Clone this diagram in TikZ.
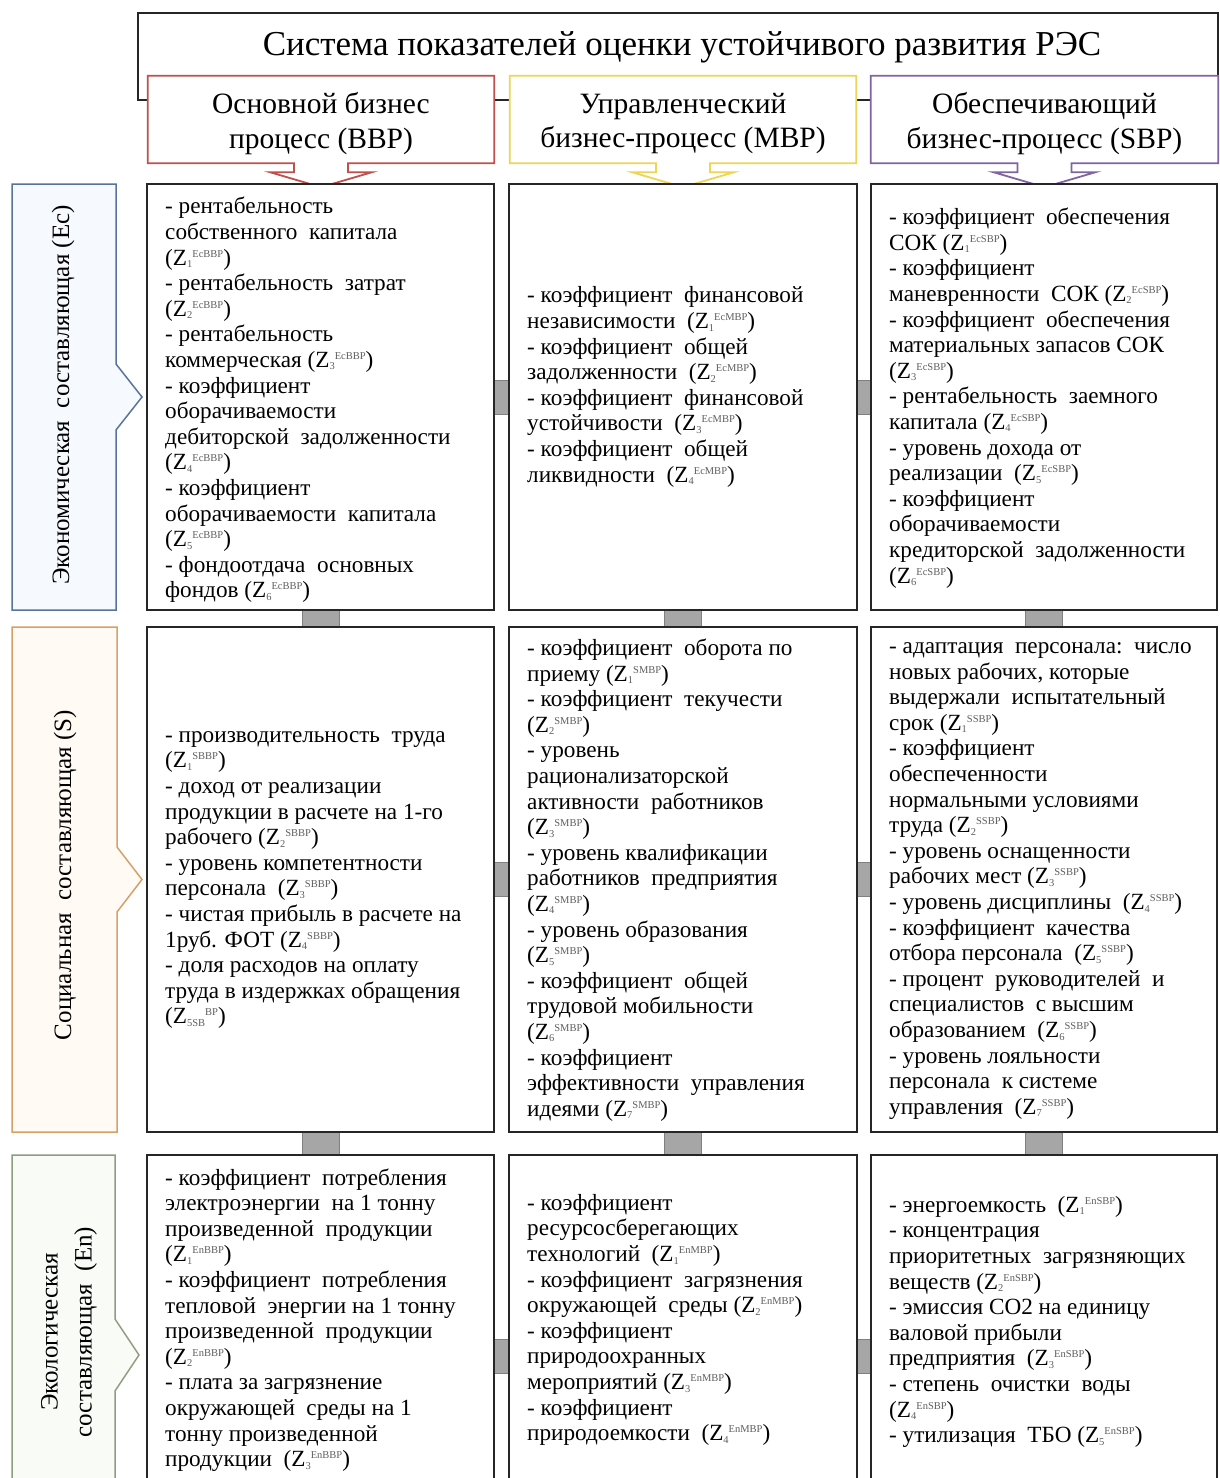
\documentclass[tikz,border=0pt]{standalone}
\usepackage{fontspec}
\setmainfont{Liberation Serif}

% outline colours
\definecolor{bbpc}{RGB}{192,80,77}
\definecolor{mbpc}{RGB}{236,214,82}
\definecolor{sbpc}{RGB}{128,100,162}
\definecolor{ecc}{RGB}{88,116,154}
\definecolor{ecf}{RGB}{246,249,253}
\definecolor{soc}{RGB}{214,160,104}
\definecolor{sof}{RGB}{255,250,244}
\definecolor{enc}{RGB}{142,156,128}
\definecolor{enf}{RGB}{249,251,246}
\definecolor{idx}{RGB}{95,95,95}

% indicator symbol Z with lower and upper index
\newcommand{\zi}[2]{(Z\raisebox{-2.5pt}{\fontsize{10.5}{10.5}\selectfont\color{idx}#1}\raisebox{8pt}{\fontsize{10.5}{10.5}\selectfont\color{idx}#2})}
% wide gap between words
\newcommand{\wsp}{\hspace{0.5em}}

\tikzset{
  cell/.style={draw=black!85, line width=1.6pt, fill=white, rectangle, inner sep=0pt},
  slot/.style={rectangle, inner sep=0pt},
  hdrline/.style={line width=1.8pt, fill=white, line join=miter},
  hdrtext/.style={align=center, inner sep=0pt, font=\fontsize{29.5}{34.5}\selectfont},
  body/.style={align=left, inner sep=0pt, anchor=west, font=\fontsize{23.2}{25.6}\selectfont},
  labline/.style={line width=1.5pt},
  labtext/.style={rotate=90, align=center, inner sep=0pt, font=\fontsize{25}{34}\selectfont},
  link/.style={fill=black!35, draw=black!50, line width=0.8pt},
}

\begin{document}
\begin{tikzpicture}[x=1pt,y=-1pt]
\useasboundingbox (0,0) rectangle (1220,1478);
\clip (0,0) rectangle (1220,1478);
\fill[white] (0,0) rectangle (1220,1478);

% ---- title frame ----
\node[draw=black!85, line width=1.5pt, minimum width=1080pt, minimum height=87pt, inner sep=0pt] (tbox) at (678,56.5) {};
\node[inner sep=0pt, font=\fontsize{35}{40}\selectfont] (title) at (682,47) {Система показателей оценки устойчивого развития РЭС};

% ---- process headers with down-pointing callouts ----
\node[slot, minimum width=346pt, minimum height=87pt] (hb1) at (321,119.5) {};
\node[slot, minimum width=346pt, minimum height=87pt] (hb2) at (683,119.5) {};
\node[slot, minimum width=347pt, minimum height=87pt] (hb3) at (1044.5,119.5) {};

\foreach \h/\c in {hb1/bbpc, hb2/mbpc, hb3/sbpc}{
  \draw[hdrline, draw=\c] (\h.north west) -- (\h.north east) -- (\h.south east)
    -- ([xshift=27pt]\h.south) -- ++(0,9) -- ++(24,0) -- ([yshift=-24pt]\h.south)
    -- ++(-51,-15) -- ++(24,0) -- ++(0,-9) -- (\h.south west) -- cycle;
}
\node[hdrtext] (ht1) at ([yshift=-4pt]hb1.center) {Основной бизнес\\процесс (BBP)};
\node[hdrtext] (ht2) at ([yshift=-4pt]hb2.center) {Управленческий\\бизнес-процесс (MBP)};
\node[hdrtext] (ht3) at ([yshift=-4pt]hb3.center) {Обеспечивающий\\бизнес-процесс (SBP)};

% ---- grid cells (placed first, drawn after the links) ----
\path
  (320.5,397) node[slot, minimum width=347pt, minimum height=426pt] (r1c1) {}
  (683,397)   node[slot, minimum width=348pt, minimum height=426pt] (r1c2) {}
  (1044,397)  node[slot, minimum width=346pt, minimum height=426pt] (r1c3) {}
  (320.5,879.5) node[slot, minimum width=347pt, minimum height=505pt] (r2c1) {}
  (683,879.5)   node[slot, minimum width=348pt, minimum height=505pt] (r2c2) {}
  (1044,879.5)  node[slot, minimum width=346pt, minimum height=505pt] (r2c3) {}
  (320.5,1356) node[slot, minimum width=347pt, minimum height=402pt] (r3c1) {}
  (683,1356)   node[slot, minimum width=348pt, minimum height=402pt] (r3c2) {}
  (1044,1356)  node[slot, minimum width=346pt, minimum height=402pt] (r3c3) {};

% grey links between neighbouring cells
\foreach \c in {1,2,3}{
  \draw[link] ([xshift=-18.5pt]r1c\c.south) rectangle ([xshift=18.5pt]r2c\c.north);
  \draw[link] ([xshift=-18.5pt]r2c\c.south) rectangle ([xshift=18.5pt]r3c\c.north);
}
\foreach \r in {1,2,3}{
  \draw[link] ([yshift=17pt]r\r c1.east) rectangle ([yshift=-17pt]r\r c2.west);
  \draw[link] ([yshift=17pt]r\r c2.east) rectangle ([yshift=-17pt]r\r c3.west);
}

% cell frames
\foreach \r in {1,2,3}{
  \foreach \c in {1,2,3}{
    \draw[cell] (r\r c\c.north west) rectangle (r\r c\c.south east);
  }
}

% ---- row labels with right-pointing callouts ----
\draw[labline, draw=ecc, fill=ecf] (12,184) -- (116,184) -- (116,364) -- (142,397) -- (116,430) -- (116,610) -- (12,610) -- cycle;
\draw[labline, draw=soc, fill=sof] (12,627) -- (117,627) -- (117,847) -- (142,879.5) -- (117,912) -- (117,1132) -- (12,1132) -- cycle;
\draw[labline, draw=enc, fill=enf] (12,1155) -- (115,1155) -- (115,1319) -- (139,1355) -- (115,1391) -- (115,1560) -- (12,1560) -- cycle;

\node[labtext] (lec) at (63,395) {Экономическая\wsp составляющая (Ec)};
\node[labtext] (lso) at (65,875) {Социальная\wsp составляющая (S)};
\node[labtext] (len) at (69,1332) {Экологическая\\составляющая\wsp (En)};

% ---- indicator lists ----
\node[body] (t11) at (165,400) {- рентабельность\\
собственного\wsp капитала\\
\zi{1}{EcBBP}\\
- рентабельность\wsp затрат\\
\zi{2}{EcBBP}\\
- рентабельность\\
коммерческая \zi{3}{EcBBP}\\
- коэффициент\\
оборачиваемости\\
дебиторской\wsp задолженности\\
\zi{4}{EcBBP}\\
- коэффициент\\
оборачиваемости\wsp капитала\\
\zi{5}{EcBBP}\\
- фондоотдача\wsp основных\\
фондов \zi{6}{EcBBP}};

\node[body] (t12) at (527,387) {- коэффициент\wsp финансовой\\
независимости\wsp \zi{1}{EcMBP}\\
- коэффициент\wsp общей\\
задолженности\wsp \zi{2}{EcMBP}\\
- коэффициент\wsp финансовой\\
устойчивости\wsp \zi{3}{EcMBP}\\
- коэффициент\wsp общей\\
ликвидности\wsp \zi{4}{EcMBP}};

\node[body] (t13) at (889,398) {- коэффициент\wsp обеспечения\\
СОК \zi{1}{EcSBP}\\
- коэффициент\\
маневренности\wsp СОК \zi{2}{EcSBP}\\
- коэффициент\wsp обеспечения\\
материальных запасов СОК\\
\zi{3}{EcSBP}\\
- рентабельность\wsp заемного\\
капитала \zi{4}{EcSBP}\\
- уровень дохода от\\
реализации\wsp \zi{5}{EcSBP}\\
- коэффициент\\
оборачиваемости\\
кредиторской\wsp задолженности\\
\zi{6}{EcSBP}};

\node[body] (t21) at (165,880) {- производительность\wsp труда\\
\zi{1}{SBBP}\\
- доход от реализации\\
продукции в расчете на 1-го\\
рабочего \zi{2}{SBBP}\\
- уровень компетентности\\
персонала\wsp \zi{3}{SBBP}\\
- чистая прибыль в расчете на\\
1руб. ФОТ \zi{4}{SBBP}\\
- доля расходов на оплату\\
труда в издержках обращения\\
\zi{5SB}{BP}};

\node[body] (t22) at (527,880) {- коэффициент\wsp оборота по\\
приему \zi{1}{SMBP}\\
- коэффициент\wsp текучести\\
\zi{2}{SMBP}\\
- уровень\\
рационализаторской\\
активности\wsp работников\\
\zi{3}{SMBP}\\
- уровень квалификации\\
работников\wsp предприятия\\
\zi{4}{SMBP}\\
- уровень образования\\
\zi{5}{SMBP}\\
- коэффициент\wsp общей\\
трудовой мобильности\\
\zi{6}{SMBP}\\
- коэффициент\\
эффективности\wsp управления\\
идеями \zi{7}{SMBP}};

\node[body] (t23) at (889,881) {- адаптация\wsp персонала:\wsp число\\
новых рабочих, которые\\
выдержали\wsp испытательный\\
срок \zi{1}{SSBP}\\
- коэффициент\\
обеспеченности\\
нормальными условиями\\
труда \zi{2}{SSBP}\\
- уровень оснащенности\\
рабочих мест \zi{3}{SSBP}\\
- уровень дисциплины\wsp \zi{4}{SSBP}\\
- коэффициент\wsp качества\\
отбора персонала\wsp \zi{5}{SSBP}\\
- процент\wsp руководителей\wsp и\\
специалистов\wsp с высшим\\
образованием\wsp \zi{6}{SSBP}\\
- уровень лояльности\\
персонала\wsp к системе\\
управления\wsp \zi{7}{SSBP}};

\node[body] (t31) at (165,1320) {- коэффициент\wsp потребления\\
электроэнергии\wsp на 1 тонну\\
произведенной\wsp продукции\\
\zi{1}{EnBBP}\\
- коэффициент\wsp потребления\\
тепловой\wsp энергии на 1 тонну\\
произведенной\wsp продукции\\
\zi{2}{EnBBP}\\
- плата за загрязнение\\
окружающей\wsp среды на 1\\
тонну произведенной\\
продукции\wsp \zi{3}{EnBBP}};

\node[body] (t32) at (527,1320) {- коэффициент\\
ресурсосберегающих\\
технологий\wsp \zi{1}{EnMBP}\\
- коэффициент\wsp загрязнения\\
окружающей\wsp среды \zi{2}{EnMBP}\\
- коэффициент\\
природоохранных\\
мероприятий \zi{3}{EnMBP}\\
- коэффициент\\
природоемкости\wsp \zi{4}{EnMBP}};

\node[body] (t33) at (889,1322) {- энергоемкость\wsp \zi{1}{EnSBP}\\
- концентрация\\
приоритетных\wsp загрязняющих\\
веществ \zi{2}{EnSBP}\\
- эмиссия СО2 на единицу\\
валовой прибыли\\
предприятия\wsp \zi{3}{EnSBP}\\
- степень\wsp очистки\wsp воды\\
\zi{4}{EnSBP}\\
- утилизация\wsp ТБО \zi{5}{EnSBP}};

\end{tikzpicture}
\end{document}
